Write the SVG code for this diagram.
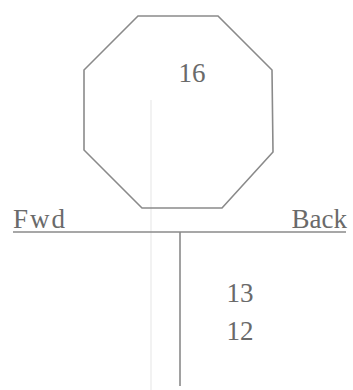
<svg xmlns="http://www.w3.org/2000/svg" width="353" height="390" viewBox="0 0 353 390">
<style>
.t{font-family:"Liberation Serif","DejaVu Serif",serif;fill:#6a6a6a;font-size:27px}
.s{fill:none;stroke:#8a8a8a;stroke-width:1.6}
</style>
<rect width="353" height="390" fill="#fff"/>
<line x1="151" y1="100" x2="151" y2="390" stroke="#f2f2f2" stroke-width="2"/>
<g id="octagon">
<polygon class="s" points="138,16 218,16 272,70 273,152 222,208 142,208 84,150 84,70"/>
<text class="t" x="192" y="82" text-anchor="middle">16</text>
</g>
<g id="connectors">
<line class="s" x1="13" y1="232" x2="346" y2="232"/>
<line class="s" x1="180" y1="232" x2="180" y2="386"/>
</g>
<g id="labels">
<text class="t" x="13" y="228" font-size="28" letter-spacing="2">Fwd</text>
<text class="t" x="347" y="228" font-size="28" text-anchor="end">Back</text>
<text class="t" x="240" y="302" text-anchor="middle">13</text>
<text class="t" x="240" y="340" text-anchor="middle">12</text>
</g>
</svg>
